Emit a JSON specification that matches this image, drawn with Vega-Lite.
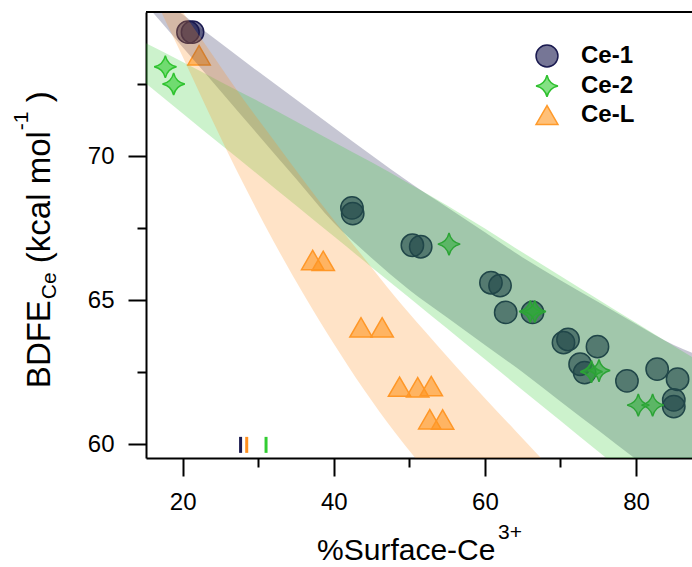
{
  "$schema": "https://vega.github.io/schema/vega-lite/v6.json",
  "width": 546,
  "height": 446,
  "autosize": {"type": "none"},
  "padding": {"left": 146, "top": 12, "right": 0, "bottom": 109},
  "config": {
    "font": "Liberation Sans",
    "view": {"stroke": null},
    "axis": {
      "domainColor": "black", "domainWidth": 2, "tickColor": "black", "tickWidth": 2,
      "labelFont": "Liberation Sans", "labelFontSize": 24, "labelColor": "black",
      "grid": false, "title": null
    },
    "legend": {
      "labelFont": "Liberation Sans", "labelFontSize": 24, "labelFontWeight": "bold", "labelColor": "black",
      "symbolStrokeWidth": 1.5, "symbolSize": 480, "rowPadding": 2, "labelOffset": 22, "padding": 0
    }
  },
  "datasets": {
    "points": [
      {"series": "Ce-1", "x": 20.7, "y": 74.3},
      {"series": "Ce-1", "x": 21.3, "y": 74.3},
      {"series": "Ce-1", "x": 42.4, "y": 68.2},
      {"series": "Ce-1", "x": 42.5, "y": 68.0},
      {"series": "Ce-1", "x": 50.4, "y": 66.9},
      {"series": "Ce-1", "x": 51.5, "y": 66.85},
      {"series": "Ce-1", "x": 60.8, "y": 65.6},
      {"series": "Ce-1", "x": 62.0, "y": 65.5},
      {"series": "Ce-1", "x": 62.75, "y": 64.57},
      {"series": "Ce-1", "x": 66.3, "y": 64.57},
      {"series": "Ce-1", "x": 70.4, "y": 63.52},
      {"series": "Ce-1", "x": 71.0, "y": 63.63},
      {"series": "Ce-1", "x": 74.9, "y": 63.38},
      {"series": "Ce-1", "x": 72.6, "y": 62.77},
      {"series": "Ce-1", "x": 73.2, "y": 62.48},
      {"series": "Ce-1", "x": 78.8, "y": 62.19},
      {"series": "Ce-1", "x": 82.8, "y": 62.6},
      {"series": "Ce-1", "x": 85.5, "y": 62.25},
      {"series": "Ce-1", "x": 85.0, "y": 61.53},
      {"series": "Ce-1", "x": 85.0, "y": 61.3},
      {"series": "Ce-2", "x": 17.7, "y": 73.1},
      {"series": "Ce-2", "x": 18.8, "y": 72.5},
      {"series": "Ce-2", "x": 55.25, "y": 66.94},
      {"series": "Ce-2", "x": 66.0, "y": 64.6},
      {"series": "Ce-2", "x": 66.6, "y": 64.6},
      {"series": "Ce-2", "x": 74.1, "y": 62.51},
      {"series": "Ce-2", "x": 75.1, "y": 62.55},
      {"series": "Ce-2", "x": 80.3, "y": 61.35},
      {"series": "Ce-2", "x": 82.2, "y": 61.35},
      {"series": "Ce-L", "x": 22.16, "y": 73.5},
      {"series": "Ce-L", "x": 37.2, "y": 66.39},
      {"series": "Ce-L", "x": 38.6, "y": 66.36},
      {"series": "Ce-L", "x": 43.6, "y": 64.05},
      {"series": "Ce-L", "x": 46.4, "y": 64.05},
      {"series": "Ce-L", "x": 48.7, "y": 61.99},
      {"series": "Ce-L", "x": 51.1, "y": 61.97},
      {"series": "Ce-L", "x": 52.9, "y": 62.01},
      {"series": "Ce-L", "x": 52.7, "y": 60.86},
      {"series": "Ce-L", "x": 54.4, "y": 60.85}
    ],
    "bands": [
      {"series": "Ce-1", "x": 15, "upper": 75.86, "lower": 75.3},
      {"series": "Ce-1", "x": 20, "upper": 74.91, "lower": 73.78},
      {"series": "Ce-1", "x": 25, "upper": 73.92, "lower": 72.26},
      {"series": "Ce-1", "x": 30, "upper": 72.93, "lower": 70.73},
      {"series": "Ce-1", "x": 35, "upper": 71.96, "lower": 69.21},
      {"series": "Ce-1", "x": 40, "upper": 70.99, "lower": 67.68},
      {"series": "Ce-1", "x": 45, "upper": 70.03, "lower": 66.46},
      {"series": "Ce-1", "x": 50, "upper": 69.09, "lower": 65.35},
      {"series": "Ce-1", "x": 55, "upper": 68.22, "lower": 64.39},
      {"series": "Ce-1", "x": 60, "upper": 67.35, "lower": 63.44},
      {"series": "Ce-1", "x": 65, "upper": 66.48, "lower": 62.49},
      {"series": "Ce-1", "x": 70, "upper": 65.69, "lower": 61.48},
      {"series": "Ce-1", "x": 75, "upper": 64.93, "lower": 60.48},
      {"series": "Ce-1", "x": 80, "upper": 64.17, "lower": 59.47},
      {"series": "Ce-1", "x": 85, "upper": 63.44, "lower": 58.49},
      {"series": "Ce-1", "x": 88, "upper": 63.11, "lower": 57.9},
      {"series": "Ce-2", "x": 15, "upper": 73.93, "lower": 72.55},
      {"series": "Ce-2", "x": 20, "upper": 73.26, "lower": 71.48},
      {"series": "Ce-2", "x": 25, "upper": 72.58, "lower": 70.41},
      {"series": "Ce-2", "x": 30, "upper": 71.9, "lower": 69.35},
      {"series": "Ce-2", "x": 35, "upper": 71.2, "lower": 68.28},
      {"series": "Ce-2", "x": 40, "upper": 70.49, "lower": 67.21},
      {"series": "Ce-2", "x": 45, "upper": 69.78, "lower": 66.14},
      {"series": "Ce-2", "x": 50, "upper": 69.04, "lower": 65.08},
      {"series": "Ce-2", "x": 55, "upper": 68.28, "lower": 64.01},
      {"series": "Ce-2", "x": 60, "upper": 67.48, "lower": 62.94},
      {"series": "Ce-2", "x": 65, "upper": 66.65, "lower": 61.87},
      {"series": "Ce-2", "x": 70, "upper": 65.83, "lower": 60.81},
      {"series": "Ce-2", "x": 75, "upper": 65.02, "lower": 59.74},
      {"series": "Ce-2", "x": 80, "upper": 64.21, "lower": 58.67},
      {"series": "Ce-2", "x": 85, "upper": 63.4, "lower": 57.61},
      {"series": "Ce-2", "x": 88, "upper": 62.93, "lower": 56.97},
      {"series": "Ce-L", "x": 15, "upper": 76.9, "lower": 76.3},
      {"series": "Ce-L", "x": 17, "upper": 76.13, "lower": 75.1},
      {"series": "Ce-L", "x": 20, "upper": 75.0, "lower": 73.45},
      {"series": "Ce-L", "x": 24, "upper": 73.49, "lower": 71.2},
      {"series": "Ce-L", "x": 28, "upper": 71.98, "lower": 69.05},
      {"series": "Ce-L", "x": 32, "upper": 70.56, "lower": 67.05},
      {"series": "Ce-L", "x": 36, "upper": 69.15, "lower": 65.2},
      {"series": "Ce-L", "x": 40, "upper": 67.78, "lower": 63.48},
      {"series": "Ce-L", "x": 44, "upper": 66.46, "lower": 61.88},
      {"series": "Ce-L", "x": 48, "upper": 65.15, "lower": 60.43},
      {"series": "Ce-L", "x": 52, "upper": 63.93, "lower": 59.13},
      {"series": "Ce-L", "x": 56, "upper": 62.74, "lower": 57.93},
      {"series": "Ce-L", "x": 60, "upper": 61.59, "lower": 56.8},
      {"series": "Ce-L", "x": 64, "upper": 60.47, "lower": 55.7},
      {"series": "Ce-L", "x": 68, "upper": 59.35, "lower": 54.6}
    ],
    "rug": [
      {"series": "Ce-1", "x": 27.66},
      {"series": "Ce-L", "x": 28.47},
      {"series": "Ce-2", "x": 31.03}
    ]
  },
  "layer": [
    {
      "data": {"name": "points"},
      "mark": {"type": "point", "filled": true, "size": 500, "fillOpacity": 0.6, "strokeOpacity": 1, "strokeWidth": 1.5},
      "encoding": {
        "x": {"field": "x", "type": "quantitative",
          "scale": {"domain": [15.14, 87.41], "nice": false, "zero": false},
          "axis": {
            "values": [20, 30, 40, 50, 60, 70, 80],
            "labelExpr": "datum.value % 20 === 0 ? datum.label : ''",
            "tickSize": {"condition": {"test": "datum.value % 20 === 0", "value": 18}, "value": 9},
            "labelPadding": 14
          }},
        "y": {"field": "y", "type": "quantitative",
          "scale": {"domain": [59.514, 75.0], "nice": false, "zero": false},
          "axis": {
            "values": [60, 62.5, 65, 67.5, 70, 72.5],
            "labelExpr": "datum.value % 5 === 0 ? datum.label : ''",
            "tickSize": {"condition": {"test": "datum.value % 5 === 0", "value": 18}, "value": 9},
            "labelPadding": 14
          }},
        "shape": {"field": "series", "type": "nominal",
          "scale": {"domain": ["Ce-1", "Ce-2", "Ce-L"], "range": ["circle", "M0,-1Q0.18,-0.18,1,0Q0.18,0.18,0,1Q-0.18,0.18,-1,0Q-0.18,-0.18,0,-1Z", "triangle-up"]},
          "legend": {"title": null, "orient": "none", "legendX": 389, "legendY": 32,
            "encode": {"symbols": {"update": {"fillOpacity": {"value": 0.6}, "strokeOpacity": {"value": 1}}}}}},
        "fill": {"field": "series", "type": "nominal",
          "scale": {"domain": ["Ce-1", "Ce-2", "Ce-L"], "range": ["#1a1a50", "#32cd32", "#ff961e"]},
          "legend": {"title": null, "orient": "none", "legendX": 389, "legendY": 32,
            "encode": {"symbols": {"update": {"fillOpacity": {"value": 0.6}, "strokeOpacity": {"value": 1}}}}}},
        "stroke": {"field": "series", "type": "nominal",
          "scale": {"domain": ["Ce-1", "Ce-2", "Ce-L"], "range": ["#1a1a50", "#2ec02e", "#ff9a2a"]},
          "legend": {"title": null, "orient": "none", "legendX": 389, "legendY": 32,
            "encode": {"symbols": {"update": {"fillOpacity": {"value": 0.6}, "strokeOpacity": {"value": 1}}}}}}
      }
    },
    {
      "data": {"name": "bands"},
      "mark": {"type": "area", "clip": true, "opacity": 0.25, "interpolate": "monotone"},
      "encoding": {
        "x": {"field": "x", "type": "quantitative"},
        "y": {"field": "upper", "type": "quantitative", "stack": null},
        "y2": {"field": "lower"},
        "color": {"field": "series", "type": "nominal",
          "scale": {"domain": ["Ce-1", "Ce-2", "Ce-L"], "range": ["#1a1a50", "#32cd32", "#ff9020"]},
          "legend": null}
      }
    },
    {
      "data": {"name": "rug"},
      "mark": {"type": "tick", "orient": "vertical", "thickness": 3, "size": 16, "opacity": 1},
      "encoding": {
        "x": {"field": "x", "type": "quantitative"},
        "y": {"datum": 59.97},
        "color": {"field": "series", "type": "nominal", "legend": null}
      }
    },
    {
      "data": {"values": [{}]},
      "mark": {"type": "rule", "color": "black", "strokeWidth": 2},
      "encoding": {"y": {"datum": 75.0}}
    },
    {
      "data": {"values": [{"t": "%Surface-Ce"}]},
      "mark": {"type": "text", "align": "left", "baseline": "alphabetic", "fontSize": 30, "font": "Liberation Sans", "color": "black"},
      "encoding": {"x": {"datum": 37.78}, "y": {"datum": 55.97}, "text": {"field": "t"}}
    },
    {
      "data": {"values": [{"t": "3+"}]},
      "mark": {"type": "text", "align": "left", "baseline": "alphabetic", "fontSize": 21, "font": "Liberation Sans", "color": "black", "dx": 181, "dy": -21},
      "encoding": {"x": {"datum": 37.78}, "y": {"datum": 55.97}, "text": {"field": "t"}}
    },
    {
      "data": {"values": [{"t": "BDFE"}]},
      "mark": {"type": "text", "align": "left", "baseline": "alphabetic", "angle": 270, "fontSize": 33, "font": "Liberation Sans", "color": "black"},
      "encoding": {"x": {"datum": 2.44}, "y": {"datum": 61.94}, "text": {"field": "t"}}
    },
    {
      "data": {"values": [{"t": "Ce"}]},
      "mark": {"type": "text", "align": "left", "baseline": "alphabetic", "angle": 270, "fontSize": 21, "font": "Liberation Sans", "color": "black", "dx": 89, "dy": 6},
      "encoding": {"x": {"datum": 2.44}, "y": {"datum": 61.94}, "text": {"field": "t"}}
    },
    {
      "data": {"values": [{"t": "(kcal mol"}]},
      "mark": {"type": "text", "align": "left", "baseline": "alphabetic", "angle": 270, "fontSize": 33, "font": "Liberation Sans", "color": "black", "dx": 125},
      "encoding": {"x": {"datum": 2.44}, "y": {"datum": 61.94}, "text": {"field": "t"}}
    },
    {
      "data": {"values": [{"t": "-1"}]},
      "mark": {"type": "text", "align": "left", "baseline": "alphabetic", "angle": 270, "fontSize": 21, "font": "Liberation Sans", "color": "black", "dx": 258, "dy": -22},
      "encoding": {"x": {"datum": 2.44}, "y": {"datum": 61.94}, "text": {"field": "t"}}
    },
    {
      "data": {"values": [{"t": ")"}]},
      "mark": {"type": "text", "align": "left", "baseline": "alphabetic", "angle": 270, "fontSize": 33, "font": "Liberation Sans", "color": "black", "dx": 286},
      "encoding": {"x": {"datum": 2.44}, "y": {"datum": 61.94}, "text": {"field": "t"}}
    }
  ]
}
